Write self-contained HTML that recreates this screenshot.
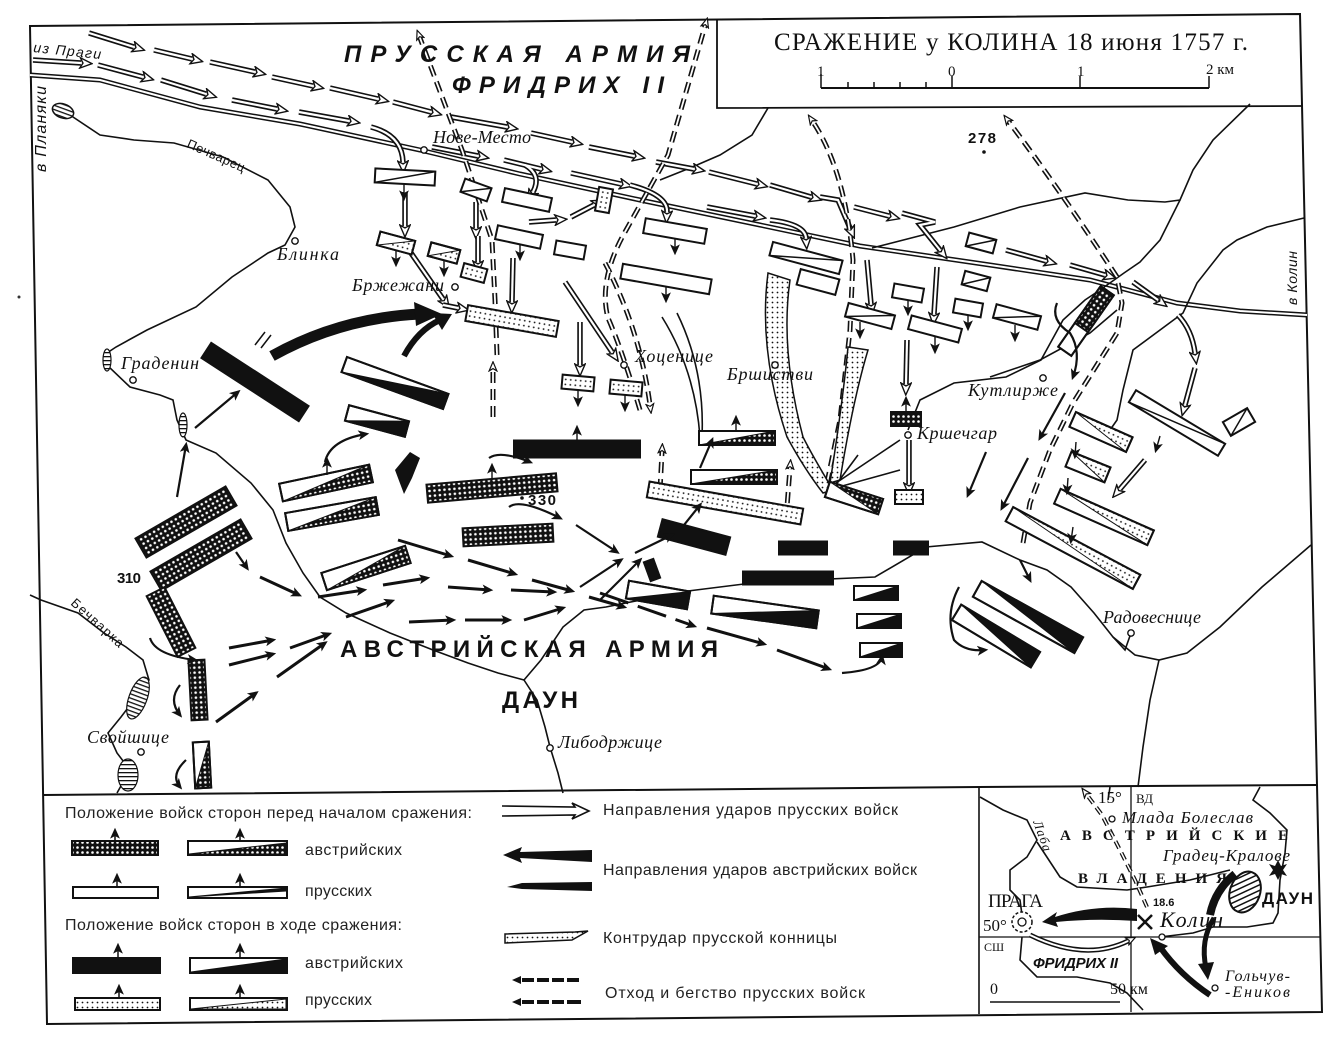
<!DOCTYPE html>
<html><head><meta charset="utf-8">
<style>
html,body{margin:0;padding:0;background:#fff;}
svg{display:block}
.pl{font-family:"Liberation Serif",serif;font-style:italic;font-size:18px;fill:#111}
.lg{font-family:"Liberation Sans",sans-serif;font-size:16px;fill:#222}
.arm{font-family:"Liberation Sans",sans-serif;font-weight:bold;font-size:24px;fill:#111}
.num{font-family:"Liberation Sans",sans-serif;font-weight:bold;font-size:15px;fill:#111}
.ln{fill:none;stroke:#111;stroke-width:1.6}
.u{stroke:#111;stroke-width:2}
</style></head>
<body>
<svg width="1331" height="1058" viewBox="0 0 1331 1058" xmlns="http://www.w3.org/2000/svg">
<defs>
<pattern id="xh" width="5" height="5" patternUnits="userSpaceOnUse"><rect width="5" height="5" fill="#111"/><circle cx="2.5" cy="2.5" r="1.3" fill="#fff"/></pattern>
<pattern id="dt" width="5" height="5" patternUnits="userSpaceOnUse"><rect width="5" height="5" fill="#fff"/><circle cx="2.5" cy="2.5" r="0.9" fill="#111"/></pattern>
<pattern id="hl" width="4" height="4" patternUnits="userSpaceOnUse"><rect width="4" height="4" fill="#fff"/><rect width="4" height="1.3" fill="#111"/></pattern>
<pattern id="dg" width="5" height="5" patternUnits="userSpaceOnUse" patternTransform="rotate(45)"><rect width="5" height="5" fill="#fff"/><rect width="1.5" height="5" fill="#111"/></pattern>
<marker id="ah" viewBox="0 0 10 10" refX="7" refY="5" markerWidth="11" markerHeight="11" markerUnits="userSpaceOnUse" orient="auto"><path d="M0,0.5 L10,5 L0,9.5 L2.5,5 Z" fill="#111"/></marker>
<marker id="oh" viewBox="0 0 14 12" refX="2" refY="6" markerWidth="14" markerHeight="12" markerUnits="userSpaceOnUse" orient="auto"><path d="M1,0.8 L13,6 L1,11.2 L4,6 Z" fill="#fff" stroke="#111" stroke-width="1.4"/></marker>
<marker id="oh2" viewBox="0 0 12 10" refX="2" refY="5" markerWidth="11" markerHeight="10" markerUnits="userSpaceOnUse" orient="auto"><path d="M1,0.8 L11,5 L1,9.2 L3.5,5 Z" fill="#fff" stroke="#111" stroke-width="1.3"/></marker>

<g id="dbl" fill="none">
<path d="M89,33 L134,47"/><path d="M154,50 L192,59"/><path d="M210,62 L255,72"/><path d="M272,77 L313,86"/><path d="M330,88 L378,99"/><path d="M393,102 L431,112"/><path d="M451,117 L507,127"/><path d="M531,133 L572,142"/><path d="M589,147 L634,156"/><path d="M656,162 L694,169"/><path d="M709,172 L757,184"/><path d="M770,185 L811,197"/><path d="M854,207 L889,216"/><path d="M1006,250 L1046,261"/><path d="M1070,265 L1105,275"/><path d="M1133,282 L1158,300"/>
<path d="M33,60 L81,63"/><path d="M98,65 L143,77"/><path d="M161,80 L206,94"/><path d="M232,100 L277,109"/><path d="M299,112 L349,121"/><path d="M432,147 L478,156"/><path d="M504,160 L541,169"/><path d="M571,173 L621,184"/><path d="M707,207 L755,216"/>
<path d="M371,127 Q402,135 403,162"/><path d="M525,165 Q542,175 533,192"/><path d="M630,185 Q668,195 667,212"/><path d="M770,220 Q805,224 806,238"/><path d="M820,197 L838,200 L850,228"/><path d="M902,213 L935,222 L920,225 L940,250"/>
<path d="M405,192 L405,226"/><path d="M476,202 L476,228"/><path d="M513,258 L512,302"/><path d="M580,322 L580,365"/><path d="M565,282 L612,352"/><path d="M411,253 L443,299"/><path d="M478,236 L478,262"/><path d="M529,222 L556,220"/><path d="M571,217 L594,205"/><path d="M937,267 L934,314"/><path d="M867,260 L871,304"/><path d="M1178,315 Q1192,330 1195,353"/><path d="M1195,368 L1185,405"/><path d="M1145,460 L1120,489"/><path d="M907,340 L906,384"/><path d="M909,440 L909,484"/><path d="M443,305 L458,308"/>
</g>
<g id="ret" fill="none">
<path d="M497,355 L495,300 L492,240 L462,150 L420,38"/>
<path d="M640,410 Q622,350 608,318 Q598,280 625,232 L668,155 L705,26"/>
<path d="M827,483 L840,420 L850,330 L853,260 Q845,170 813,122"/>
<path d="M1023,543 L1030,503 L1050,450 L1073,403 L1100,360 L1117,333 L1122,303 L1117,277 Q1060,190 1009,122"/>
<path d="M660,490 L662,452"/><path d="M786,520 L790,468"/><path d="M493,417 L493,370"/><path d="M605,263 Q640,330 650,405"/>
</g>
</defs>

<rect width="1331" height="1058" fill="#fff"/>

<path d="M30,26 L1300,14 L1322,1012 L47,1024 Z" fill="none" stroke="#111" stroke-width="2"/>
<path d="M43,795 L979,787 L1317,785" fill="none" stroke="#111" stroke-width="2"/>
<path d="M979,787 L979,1014" fill="none" stroke="#111" stroke-width="1.6"/>
<path d="M717,19 L717,108 L1302,106" fill="none" stroke="#111" stroke-width="1.8"/>
<text x="774" y="50" font-family="Liberation Serif,serif" font-size="25" fill="#111" textLength="474">СРАЖЕНИЕ у КОЛИНА 18 июня 1757 г.</text>
<path d="M821,88 L1209,88" stroke="#111" stroke-width="2"/>
<path d="M821,74 L821,88 M848,82 L848,88 M874,82 L874,88 M900,82 L900,88 M926,82 L926,88 M952,76 L952,88 M1080,76 L1080,88 M1209,76 L1209,88" stroke="#111" stroke-width="1.5"/>
<g font-family="Liberation Serif,serif" font-size="15" fill="#111"><text x="817" y="76">1</text><text x="948" y="76">0</text><text x="1077" y="76">1</text><text x="1206" y="74">2 км</text></g>

<path d="M30,75 L100,80 L200,107 L300,124 L420,150 L520,174 L640,200 L760,225 L860,246 L990,265 L1090,280 L1177,303 L1240,311 L1307,315" fill="none" stroke="#111" stroke-width="5"/>
<path d="M30,75 L100,80 L200,107 L300,124 L420,150 L520,174 L640,200 L760,225 L860,246 L990,265 L1090,280 L1177,303 L1240,311 L1307,315" fill="none" stroke="#fff" stroke-width="2"/>

<path class="ln" d="M70,115 L100,135 L134,140 L174,143 L223,157 L268,180 L290,207 L295,227 L285,245 L268,253 L232,277 L196,307 L147,330 L116,347 L107,353 L109,367 L130,387 L160,395 L173,400 L177,420 L186,440 L216,453 L251,483 L273,510 L286,543 L303,573 L320,597 L346,613 L390,633 L433,650 L468,663 L498,673 L524,680 L541,660 L563,627 L584,610 L606,607 L680,592 L760,582 L875,577 L926,547 L982,542 L1020,560 L1047,570 L1071,587 L1094,613 L1113,637 L1135,655 L1159,660 L1187,653 L1220,627 L1262,587 L1311,545"/>
<path class="ln" d="M524,680 L537,700 L545,727 L550,747 L558,773 L563,793"/>
<path class="ln" d="M1159,660 L1150,700 L1143,747 L1138,787"/>
<path class="ln" d="M30,595 L41,600 L78,613 L104,633 L126,647 L143,660 L149,680 L134,700 L121,717 L108,733 L117,753 L130,770 L117,793"/>
<path class="ln" d="M768,108 L752,135 L720,155 L690,168 L660,180"/>
<path class="ln" d="M1250,104 L1213,140 L1193,170 L1180,200 L1165,202 L1128,200 L1085,193 L1020,207 L954,227 L872,248"/>
<path class="ln" d="M1180,200 L1160,240 L1140,262 L1124,273 L1100,290 L1085,300 L1063,320 L1041,360 L1006,377 L954,383 L920,400 L908,430"/>
<path class="ln" d="M1304,218 L1267,227 L1237,240 L1223,250 L1197,283 L1183,313 L1133,350 L1123,390 L1117,420 L1110,430"/>
<path class="ln" d="M990,377 L1040,360 L1090,333 L1117,310"/>
<path class="ln" d="M1113,637 L1125,650 L1131,633"/>
<ellipse cx="63" cy="111" rx="11" ry="7" fill="url(#hl)" stroke="#111" stroke-width="1.5" transform="rotate(20 63 111)"/>
<ellipse cx="107" cy="360" rx="4" ry="11" fill="url(#hl)" stroke="#111" stroke-width="1.2"/>
<ellipse cx="183" cy="425" rx="4" ry="12" fill="url(#hl)" stroke="#111" stroke-width="1.2"/>
<ellipse cx="138" cy="698" rx="9" ry="22" fill="url(#hl)" stroke="#111" stroke-width="1.2" transform="rotate(20 138 698)"/>
<ellipse cx="128" cy="775" rx="10" ry="16" fill="url(#hl)" stroke="#111" stroke-width="1.2"/>

<use href="#dbl" stroke="#111" stroke-width="5.5" marker-end="url(#oh)"/>
<use href="#dbl" stroke="#fff" stroke-width="2.2"/>
<use href="#ret" stroke="#111" stroke-width="5" stroke-dasharray="11 6" marker-end="url(#oh2)"/>
<use href="#ret" stroke="#fff" stroke-width="1.8" stroke-dasharray="11 6"/>

<path d="M768,273 Q758,350 787,437 Q805,470 823,493 L833,490 Q812,455 803,437 Q780,350 790,280 Z" fill="url(#dt)" stroke="#111" stroke-width="1.5"/>
<path d="M848,347 Q843,400 830,483 L840,480 Q853,400 868,350 Z" fill="url(#dt)" stroke="#111" stroke-width="1.5"/>
<path class="ln" d="M662,317 Q695,370 700,437 M677,313 Q705,370 702,437"/>
<path class="ln" d="M833,485 L900,440 M835,488 L900,470 M835,486 L858,455"/>

<g class="u">
<g fill="#fff">
<rect x="-24" y="-7" width="48" height="14" transform="translate(527,200) rotate(12)"/>
<rect x="-23" y="-7" width="46" height="14" transform="translate(519,237) rotate(12)"/>
<rect x="-15" y="-7" width="30" height="14" transform="translate(570,250) rotate(10)"/>
<rect x="-31" y="-7.5" width="62" height="15" transform="translate(675,231) rotate(10)"/>
<rect x="-45" y="-7.5" width="90" height="15" transform="translate(666,279) rotate(10)"/>
<rect x="-15" y="-7" width="30" height="14" transform="translate(908,293) rotate(10)"/>
<rect x="-14" y="-7" width="28" height="14" transform="translate(968,308) rotate(10)"/>
<rect x="-26" y="-7" width="52" height="14" transform="translate(935,329) rotate(15)"/>
<rect x="-20" y="-8" width="40" height="16" transform="translate(818,282) rotate(15)"/>
</g>
<g fill="#fff">
<g transform="translate(405,177) rotate(3)"><rect x="-30" y="-7" width="60" height="14"/><path d="M-30,7 L30,-7" stroke-width="1.5"/></g>
<g transform="translate(476,190) rotate(20)"><rect x="-14" y="-7" width="28" height="14"/><path d="M-14,7 L14,-7" stroke-width="1.5"/></g>
<g transform="translate(806,258) rotate(15)"><rect x="-36" y="-7" width="72" height="14"/><path d="M-36,7 L36,-7" stroke-width="1.5"/></g>
<g transform="translate(981,243) rotate(15)"><rect x="-14" y="-7" width="28" height="14"/><path d="M-14,7 L14,-7" stroke-width="1.5"/></g>
<g transform="translate(976,281) rotate(15)"><rect x="-13" y="-7" width="26" height="14"/><path d="M-13,7 L13,-7" stroke-width="1.5"/></g>
<g transform="translate(870,316) rotate(15)"><rect x="-24" y="-7" width="48" height="14"/><path d="M-24,7 L24,-7" stroke-width="1.5"/></g>
<g transform="translate(1017,317) rotate(15)"><rect x="-23" y="-7" width="46" height="14"/><path d="M-23,7 L23,-7" stroke-width="1.5"/></g>
<g transform="translate(1177,423) rotate(31)"><rect x="-52" y="-7" width="104" height="14"/><path d="M-52,7 L52,-7" stroke-width="1.5"/></g>
<g transform="translate(1239,422) rotate(-30)"><rect x="-14" y="-8" width="28" height="16"/><path d="M-14,8 L14,-8" stroke-width="1.5"/></g>
</g>
<g fill="url(#dt)">
<rect x="-7" y="-12" width="14" height="24" transform="translate(604,200) rotate(10)"/>
<rect x="-12" y="-7" width="24" height="14" transform="translate(474,273) rotate(15)"/>
<rect x="-46" y="-8" width="92" height="16" transform="translate(512,321) rotate(10)"/>
<rect x="-16" y="-7" width="32" height="14" transform="translate(578,383) rotate(5)"/>
<rect x="-16" y="-7" width="32" height="14" transform="translate(626,388) rotate(5)"/>
<rect x="-78" y="-8" width="156" height="16" transform="translate(725,503) rotate(10)"/>
<rect x="-14" y="-7" width="28" height="14" transform="translate(909,497)"/>
</g>
<g transform="translate(396,243) rotate(15)"><rect x="-18" y="-7" width="36" height="14" fill="#fff"/><path d="M-18,7 L18,-7 L18,7 Z" fill="url(#dt)" stroke-width="1"/><rect x="-18" y="-7" width="36" height="14" fill="none"/></g>
<g transform="translate(444,253) rotate(15)"><rect x="-15" y="-7" width="30" height="14" fill="#fff"/><path d="M-15,7 L15,-7 L15,7 Z" fill="url(#dt)" stroke-width="1"/><rect x="-15" y="-7" width="30" height="14" fill="none"/></g>
<g transform="translate(1101,432) rotate(24)"><rect x="-31" y="-8" width="62" height="16" fill="url(#dt)"/><path d="M-31,-8 L31,8 L-31,8 Z" fill="#fff" stroke-width="1"/><rect x="-31" y="-8" width="62" height="16" fill="none"/></g>
<g transform="translate(1088,467) rotate(22)"><rect x="-21" y="-8" width="42" height="16" fill="url(#dt)"/><path d="M-21,-8 L21,8 L-21,8 Z" fill="#fff" stroke-width="1"/><rect x="-21" y="-8" width="42" height="16" fill="none"/></g>
<g transform="translate(1104,517) rotate(24)"><rect x="-51" y="-8" width="102" height="16" fill="url(#dt)"/><path d="M-51,-8 L51,8 L-51,8 Z" fill="#fff" stroke-width="1"/><rect x="-51" y="-8" width="102" height="16" fill="none"/></g>
<g transform="translate(1073,548) rotate(28)"><rect x="-72" y="-8" width="144" height="16" fill="url(#dt)"/><path d="M-72,-8 L72,8 L-72,8 Z" fill="#fff" stroke-width="1"/><rect x="-72" y="-8" width="144" height="16" fill="none"/></g>
<g fill="url(#xh)">
<rect x="-65" y="-9" width="130" height="18" transform="translate(492,488) rotate(-5)"/>
<rect x="-45" y="-9" width="90" height="18" transform="translate(508,535) rotate(-3)"/>
<rect x="-52" y="-11" width="104" height="22" transform="translate(186,522) rotate(-30)"/>
<rect x="-52" y="-11" width="104" height="22" transform="translate(201,555) rotate(-30)"/>
<rect x="-34" y="-10" width="68" height="20" transform="translate(171,622) rotate(63)"/>
<rect x="-8" y="-30" width="16" height="60" transform="translate(198,690) rotate(-3)"/>
<rect x="-15" y="-7" width="30" height="14" transform="translate(906,419)"/>
</g>
<g transform="translate(1086,321) rotate(-55)"><rect x="-37" y="-8" width="74" height="16" fill="#fff"/><rect x="-8" y="-8" width="45" height="16" fill="url(#xh)"/><rect x="-37" y="-8" width="74" height="16" fill="none"/></g>
<g transform="translate(326,483) rotate(-12)"><rect x="-46" y="-9" width="92" height="18" fill="#fff"/><path d="M-46,9 L46,-9 L46,9 Z" fill="url(#xh)" stroke-width="1"/><rect x="-46" y="-9" width="92" height="18" fill="none"/></g>
<g transform="translate(332,514) rotate(-10)"><rect x="-46" y="-9" width="92" height="18" fill="#fff"/><path d="M-46,9 L46,-9 L46,9 Z" fill="url(#xh)" stroke-width="1"/><rect x="-46" y="-9" width="92" height="18" fill="none"/></g>
<g transform="translate(366,568) rotate(-18)"><rect x="-44" y="-9" width="88" height="18" fill="#fff"/><path d="M-44,9 L44,-9 L44,9 Z" fill="url(#xh)" stroke-width="1"/><rect x="-44" y="-9" width="88" height="18" fill="none"/></g>
<g transform="translate(202,765) rotate(-3)"><rect x="-8" y="-23" width="16" height="46" fill="#fff"/><path d="M-8,23 L8,-23 L8,23 Z" fill="url(#xh)" stroke-width="1"/><rect x="-8" y="-23" width="16" height="46" fill="none"/></g>
<g transform="translate(737,438)"><rect x="-38" y="-7" width="76" height="14" fill="#fff"/><path d="M-38,7 L38,-7 L38,7 Z" fill="url(#xh)" stroke-width="1"/><rect x="-38" y="-7" width="76" height="14" fill="none"/></g>
<g transform="translate(734,477)"><rect x="-43" y="-7" width="86" height="14" fill="#fff"/><path d="M-43,7 L43,-7 L43,7 Z" fill="url(#xh)" stroke-width="1"/><rect x="-43" y="-7" width="86" height="14" fill="none"/></g>
<g transform="translate(854,498) rotate(18)"><rect x="-28" y="-8" width="56" height="16" fill="#fff"/><path d="M-28,-8 L28,-8 L28,8 Z" fill="url(#xh)" stroke-width="1"/><rect x="-28" y="-8" width="56" height="16" fill="none"/></g>
<g fill="#111">
<rect x="-58" y="-9" width="116" height="18" transform="translate(255,382) rotate(33)"/>
<rect x="-63" y="-8.5" width="126" height="17" transform="translate(577,449)"/>
<rect x="-35" y="-9" width="70" height="18" transform="translate(694,537) rotate(15)"/>
<rect x="-24" y="-6.5" width="48" height="13" transform="translate(803,548)"/>
<rect x="-17" y="-6.5" width="34" height="13" transform="translate(911,548)"/>
<rect x="-45" y="-6.5" width="90" height="13" transform="translate(788,578)"/>
<path d="M395,470 L410,452 L420,458 L412,478 L404,494 Z" stroke="none"/>
<rect x="-5" y="-10" width="10" height="20" transform="translate(652,570) rotate(-20)"/>
</g>
<g transform="translate(395,383) rotate(20)"><rect x="-54" y="-8" width="108" height="16" fill="#fff"/><path d="M-54,8 L54,-8 L54,8 Z" fill="#111" stroke-width="1"/><rect x="-54" y="-8" width="108" height="16" fill="none"/></g>
<g transform="translate(377,421) rotate(15)"><rect x="-31" y="-8" width="62" height="16" fill="#fff"/><path d="M-31,8 L31,-8 L31,8 Z" fill="#111" stroke-width="1"/><rect x="-31" y="-8" width="62" height="16" fill="none"/></g>
<g transform="translate(658,595) rotate(10)"><rect x="-31" y="-9" width="62" height="18" fill="#fff"/><path d="M-31,9 L31,-9 L31,9 Z" fill="#111" stroke-width="1"/><rect x="-31" y="-9" width="62" height="18" fill="none"/></g>
<g transform="translate(765,612) rotate(8)"><rect x="-53" y="-9" width="106" height="18" fill="#fff"/><path d="M-53,9 L53,-9 L53,9 Z" fill="#111" stroke-width="1"/><rect x="-53" y="-9" width="106" height="18" fill="none"/></g>
<g transform="translate(876,593)"><rect x="-22" y="-7" width="44" height="14" fill="#fff"/><path d="M-22,7 L22,-7 L22,7 Z" fill="#111" stroke-width="1"/><rect x="-22" y="-7" width="44" height="14" fill="none"/></g>
<g transform="translate(879,621)"><rect x="-22" y="-7" width="44" height="14" fill="#fff"/><path d="M-22,7 L22,-7 L22,7 Z" fill="#111" stroke-width="1"/><rect x="-22" y="-7" width="44" height="14" fill="none"/></g>
<g transform="translate(881,650)"><rect x="-21" y="-7" width="42" height="14" fill="#fff"/><path d="M-21,7 L21,-7 L21,7 Z" fill="#111" stroke-width="1"/><rect x="-21" y="-7" width="42" height="14" fill="none"/></g>
<g transform="translate(1028,617) rotate(29)"><rect x="-58" y="-9" width="116" height="18" fill="#fff"/><path d="M-58,-9 L58,-9 L58,9 Z" fill="#111" stroke-width="1"/><rect x="-58" y="-9" width="116" height="18" fill="none"/></g>
<g transform="translate(996,636) rotate(31)"><rect x="-46" y="-9" width="92" height="18" fill="#fff"/><path d="M-46,-9 L46,-9 L46,9 Z" fill="#111" stroke-width="1"/><rect x="-46" y="-9" width="92" height="18" fill="none"/></g>
</g>

<g fill="none" stroke="#111" stroke-width="1.4" marker-end="url(#ah)">
<path d="M404,184 L404,198"/><path d="M520,244 L520,258"/><path d="M666,287 L666,300"/><path d="M675,239 L675,252"/><path d="M578,390 L578,404"/><path d="M625,395 L625,409"/><path d="M860,322 L860,336"/><path d="M935,337 L935,351"/><path d="M1015,325 L1015,339"/><path d="M968,316 L968,328"/><path d="M908,300 L908,313"/><path d="M1160,436 L1156,450"/><path d="M1076,442 L1075,456"/><path d="M1068,478 L1067,492"/><path d="M1073,527 L1071,541"/><path d="M577,440 L577,428"/><path d="M492,480 L492,466"/><path d="M327,475 L327,460"/><path d="M736,431 L736,418"/><path d="M906,411 L906,399"/><path d="M396,250 L396,264"/><path d="M444,260 L444,274"/>
</g>

<g fill="none" stroke="#111" stroke-width="2.2" marker-end="url(#ah)">
<path d="M177,497 L186,445"/><path d="M195,428 L238,392"/><path d="M236,552 L247,568"/><path d="M325,462 Q330,440 366,434"/><path d="M489,458 Q500,450 530,462"/><path d="M509,507 Q520,498 560,518"/><path d="M576,525 L617,552"/><path d="M580,587 L621,560"/><path d="M600,600 L640,560"/><path d="M1065,393 L1040,438"/><path d="M1028,458 L1002,508"/><path d="M986,452 L968,495"/><path d="M1057,303 Q1050,320 1070,333 Q1082,352 1073,377"/><path d="M959,587 Q945,613 954,640 Q965,652 985,650"/><path d="M842,673 Q880,670 882,657"/><path d="M635,553 L672,535"/><path d="M672,540 L700,505"/><path d="M700,468 L712,440"/><path d="M150,638 Q155,655 195,660"/><path d="M180,685 Q168,700 180,715"/><path d="M186,760 Q170,775 180,787"/><path d="M1020,560 L1030,580"/>
</g>
<g fill="none" stroke="#111" stroke-width="3" marker-end="url(#ah)">
<path d="M260,577 L299,595"/><path d="M318,597 L364,590"/><path d="M383,585 L427,578"/><path d="M448,587 L490,590"/><path d="M511,590 L554,592"/>
<path d="M409,622 L453,620"/><path d="M465,620 L509,620"/><path d="M524,620 L563,608"/>
<path d="M216,722 L256,693"/><path d="M277,677 L325,643"/><path d="M346,617 L392,601"/>
<path d="M229,648 L273,640"/><path d="M229,665 L273,654"/><path d="M290,648 L329,634"/>
<path d="M398,540 L451,556"/><path d="M468,560 L515,574"/><path d="M532,580 L572,591"/><path d="M589,597 L624,607"/>
<path d="M600,593 L694,626" stroke-dasharray="30 10"/><path d="M707,628 L764,644"/><path d="M777,650 L829,669"/>
</g>
<path d="M272,356 Q340,318 420,314" fill="none" stroke="#111" stroke-width="11"/>
<path d="M414,302 L442,314 L416,326 Z" fill="#111"/>
<path d="M404,356 Q418,330 440,320" fill="none" stroke="#111" stroke-width="6"/>
<path d="M432,313 L452,314 L442,330 Z" fill="#111"/>
<path d="M255,345 L265,332 M261,348 L271,335" stroke="#111" stroke-width="1.5"/>

<text x="33" y="52" font-family="Liberation Sans,sans-serif" font-style="italic" font-size="14" fill="#111" transform="rotate(6 33 52)" textLength="68">из Праги</text>
<text x="46" y="172" font-family="Liberation Sans,sans-serif" font-style="italic" font-size="16" fill="#111" transform="rotate(-90 46 172)" textLength="86">в Планяки</text>
<text x="186" y="147" font-family="Liberation Sans,sans-serif" font-size="13" fill="#111" transform="rotate(24 186 147)" textLength="62">Печварец</text>
<text x="1297" y="305" font-family="Liberation Sans,sans-serif" font-style="italic" font-size="14" fill="#111" transform="rotate(-90 1297 305)" textLength="54">в Колин</text>
<text x="70" y="604" font-family="Liberation Sans,sans-serif" font-size="13" fill="#111" transform="rotate(42 70 604)" textLength="66">Бечварка</text>

<g class="pl">
<text x="433" y="143" textLength="98">Нове-Место</text>
<text x="277" y="260" textLength="62">Блинка</text>
<text x="352" y="291" textLength="92">Бржежани</text>
<text x="121" y="369" textLength="78">Граденин</text>
<text x="635" y="362" textLength="78">Хоценице</text>
<text x="727" y="380" textLength="86">Бршистви</text>
<text x="968" y="396" textLength="90">Кутлирже</text>
<text x="917" y="439" textLength="80">Кршечгар</text>
<text x="1103" y="623" textLength="98">Радовеснице</text>
<text x="558" y="748" textLength="104">Либодржице</text>
<text x="87" y="743" textLength="82">Свойшице</text>
</g>
<g fill="#fff" stroke="#111" stroke-width="1.4">
<circle cx="424" cy="150" r="3.2"/><circle cx="295" cy="241" r="3.2"/><circle cx="455" cy="287" r="3.2"/><circle cx="133" cy="380" r="3.2"/><circle cx="624" cy="365" r="3.2"/><circle cx="775" cy="365" r="3.2"/><circle cx="1043" cy="378" r="3.2"/><circle cx="908" cy="435" r="3.2"/><circle cx="1131" cy="633" r="3.2"/><circle cx="550" cy="748" r="3.2"/><circle cx="141" cy="752" r="3.2"/>
</g>
<text x="968" y="143" class="num" textLength="28">278</text><circle cx="984" cy="152" r="1.8" fill="#111"/>
<text x="528" y="505" class="num" textLength="28">330</text><circle cx="522" cy="498" r="1.8" fill="#111"/>
<text x="117" y="583" class="num" textLength="24">310</text>

<text x="344" y="62" class="arm" font-style="italic" textLength="346">ПРУССКАЯ АРМИЯ</text>
<text x="452" y="93" class="arm" font-style="italic" textLength="212">ФРИДРИХ II</text>
<text x="340" y="657" class="arm" textLength="378">АВСТРИЙСКАЯ АРМИЯ</text>
<text x="502" y="708" class="arm" font-size="20" textLength="76">ДАУН</text>
<circle cx="19" cy="297" r="1.5" fill="#333"/>

<g class="lg">
<text x="65" y="818" textLength="407">Положение войск сторон перед началом сражения:</text>
<text x="305" y="855" textLength="97">австрийских</text>
<text x="305" y="896" textLength="67">прусских</text>
<text x="65" y="930" textLength="337">Положение войск сторон в ходе сражения:</text>
<text x="305" y="968" textLength="98">австрийских</text>
<text x="305" y="1005" textLength="67">прусских</text>
<text x="603" y="815" textLength="295">Направления ударов  прусских войск</text>
<text x="603" y="875" textLength="314">Направления ударов австрийских войск</text>
<text x="603" y="943" textLength="234">Контрудар прусской конницы</text>
<text x="605" y="998" textLength="260">Отход и бегство прусских войск</text>
</g>
<g stroke="#111" stroke-width="2">
<rect x="72" y="841" width="86" height="14" fill="url(#xh)"/>
<rect x="188" y="841" width="99" height="14" fill="#fff"/><path d="M189,854 L286,843 L286,854 Z" fill="url(#xh)" stroke-width="1"/>
<rect x="73" y="887" width="85" height="11" fill="#fff"/>
<rect x="188" y="887" width="99" height="11" fill="#fff"/><path d="M189,897 L286,888 L286,891 Z" fill="#111" stroke-width="1"/>
<rect x="73" y="958" width="87" height="15" fill="#111"/>
<rect x="190" y="958" width="97" height="15" fill="#fff"/><path d="M191,972 L286,959 L286,972 Z" fill="#111" stroke-width="1"/>
<rect x="75" y="998" width="85" height="12" fill="url(#dt)"/>
<rect x="190" y="998" width="97" height="12" fill="#fff"/><path d="M191,1009 L286,999 L286,1009 Z" fill="url(#dt)" stroke-width="1"/>
</g>
<g fill="none" stroke="#111" stroke-width="1.5" marker-end="url(#ah)">
<path d="M115,841 L115,831"/><path d="M240,841 L240,831"/><path d="M117,887 L117,876"/><path d="M240,887 L240,876"/><path d="M118,958 L118,946"/><path d="M240,958 L240,946"/><path d="M119,998 L119,987"/><path d="M240,998 L240,987"/>
</g>
<path d="M502,806 L575,807 L572,803 L589,811 L572,819 L575,815 L502,816" fill="#fff" stroke="#111" stroke-width="1.6"/>
<path d="M592,850 L592,862 L520,858 L522,863 L503,855 L522,847 L520,852 Z" fill="#111"/>
<path d="M592,882 L592,891 L522,889 L507,887 L522,883 Z" fill="#111"/>
<path d="M505,934 L575,932 L588,931 L572,940 L505,943 Z" fill="url(#dt)" stroke="#111" stroke-width="1.5"/>
<g fill="#111">
<path d="M512,980 L521,976 L521,984 Z"/><rect x="522" y="978" width="12" height="4"/><rect x="537" y="978" width="12" height="4"/><rect x="552" y="978" width="12" height="4"/><rect x="567" y="978" width="12" height="4"/>
<path d="M512,1002 L521,998 L521,1006 Z"/><rect x="522" y="1000" width="12" height="4"/><rect x="537" y="1000" width="12" height="4"/><rect x="552" y="1000" width="12" height="4"/><rect x="567" y="1000" width="14" height="4"/>
</g>

<!-- Inset -->
<path d="M1131,787 L1131,1012 M979,937 L1320,937" stroke="#111" stroke-width="1.3"/>
<path class="ln" stroke-width="1.2" d="M980,797 L1003,810 L1027,820 L1037,840 L1027,857 L1010,870 L1010,890 L1020,900 L1022,915"/>
<path class="ln" stroke-width="1.2" d="M1037,842 L1060,877 L1077,887 L1127,890 L1147,887 L1190,880 L1230,870"/>
<path class="ln" stroke-width="1.2" d="M1260,787 L1253,800 L1270,813 L1287,830 L1285,853 L1280,880 L1278,913 L1273,923 L1247,927 L1213,927 L1193,933 L1160,937"/>
<path class="ln" stroke-width="1.2" d="M1022,937 L1020,960 L1037,977 L1077,977 L1110,983 L1127,993 L1143,1010"/>
<path class="ln" stroke-width="1.2" d="M1110,787 L1108,800"/>
<text x="1033" y="822" font-family="Liberation Serif,serif" font-style="italic" font-size="13" fill="#111" transform="rotate(70 1033 822)" textLength="32">Лаба</text>
<path d="M1147,907 L1135,880 L1120,850 L1102,815 L1087,795" fill="none" stroke="#111" stroke-width="4" stroke-dasharray="8 5" marker-end="url(#oh2)"/>
<path d="M1147,907 L1135,880 L1120,850 L1102,815 L1087,795" fill="none" stroke="#fff" stroke-width="1.5" stroke-dasharray="8 5"/>
<g font-family="Liberation Serif,serif" fill="#111">
<text x="1098" y="803" font-size="17">15°</text>
<text x="1136" y="803" font-size="13">ВД</text>
<text x="1122" y="823" font-size="17" font-style="italic" textLength="131">Млада Болеслав</text>
<text x="1060" y="840" font-size="15" font-weight="bold" textLength="228">АВСТРИЙСКИЕ</text>
<text x="1163" y="861" font-size="17" font-style="italic" textLength="127">Градец-Кралове</text>
<text x="1078" y="883" font-size="15" font-weight="bold" textLength="149">ВЛАДЕНИЯ</text>
<text x="988" y="907" font-size="19" textLength="55">ПРАГА</text>
<text x="983" y="931" font-size="17">50°</text>
<text x="984" y="951" font-size="12">СШ</text>
<text x="990" y="994" font-size="16">0</text>
<text x="1110" y="994" font-size="16">50 км</text>
<text x="1160" y="927" font-size="22" font-style="italic" textLength="63">Колин</text>
<text x="1225" y="981" font-size="16" font-style="italic" textLength="65">Гольчув-</text>
<text x="1225" y="997" font-size="16" font-style="italic" textLength="65">-Еников</text>
</g>
<text x="1153" y="906" font-family="Liberation Sans,sans-serif" font-weight="bold" font-size="11" fill="#111">18.6</text>
<text x="1262" y="904" font-family="Liberation Sans,sans-serif" font-weight="bold" font-size="17" fill="#111" textLength="51">ДАУН</text>
<text x="1033" y="968" font-family="Liberation Sans,sans-serif" font-weight="bold" font-style="italic" font-size="15" fill="#111" textLength="85">ФРИДРИХ II</text>
<circle cx="1112" cy="819" r="3" fill="#fff" stroke="#111" stroke-width="1.3"/>
<circle cx="1162" cy="937" r="3" fill="#fff" stroke="#111" stroke-width="1.3"/>
<circle cx="1215" cy="988" r="3" fill="#fff" stroke="#111" stroke-width="1.3"/>
<circle cx="1022" cy="922" r="10" fill="#fff" stroke="#111" stroke-width="1.5" stroke-dasharray="3 2"/>
<circle cx="1022" cy="922" r="4" fill="none" stroke="#111" stroke-width="1.3"/>
<path d="M990,1002 L1120,1002" stroke="#111" stroke-width="1.5"/>
<path d="M1138,915 L1152,929 M1152,915 L1138,929" stroke="#111" stroke-width="2.5"/>
<ellipse cx="1245" cy="892" rx="15" ry="21" fill="url(#dg)" stroke="#111" stroke-width="2" transform="rotate(20 1245 892)"/>
<path d="M1278,860 L1281,866 L1287,864 L1283,870 L1287,876 L1281,874 L1278,880 L1275,874 L1269,876 L1273,870 L1269,864 L1275,866 Z" fill="#111"/>
<path d="M1137,909 Q1095,904 1055,917 L1057,912 L1042,922 L1058,927 L1056,922 Q1095,918 1137,921 Z" fill="#111"/>
<path d="M1030,935 Q1085,962 1128,941" fill="none" stroke="#111" stroke-width="5" marker-end="url(#oh2)"/>
<path d="M1030,935 Q1085,962 1128,941" fill="none" stroke="#fff" stroke-width="2"/>
<path d="M1235,874 Q1215,890 1210,915" fill="none" stroke="#111" stroke-width="8"/>
<path d="M1214,918 Q1200,940 1206,968" fill="none" stroke="#111" stroke-width="5"/>
<path d="M1198,964 L1208,980 L1214,962 Z" fill="#111"/>
<path d="M1210,995 Q1180,975 1160,947" fill="none" stroke="#111" stroke-width="6"/>
<path d="M1150,938 L1168,946 L1155,955 Z" fill="#111"/>
</svg>
</body></html>
